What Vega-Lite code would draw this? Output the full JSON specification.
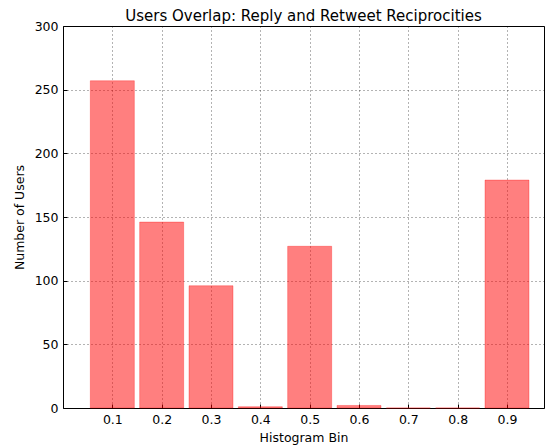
{
  "$schema": "https://vega.github.io/schema/vega-lite/v6.json",
  "width": 481,
  "height": 382,
  "autosize": {"type": "none"},
  "padding": {"left": 63, "top": 26, "right": 1, "bottom": 38},
  "background": "white",
  "title": {
    "text": "Users Overlap: Reply and Retweet Reciprocities",
    "font": "DejaVu Sans",
    "fontSize": 15,
    "fontWeight": "normal",
    "color": "black",
    "offset": -4
  },
  "config": {
    "view": {"stroke": "black", "strokeWidth": 1},
    "axis": {
      "labelFont": "DejaVu Sans",
      "titleFont": "DejaVu Sans",
      "labelFontSize": 12.5,
      "titleFontSize": 12.5,
      "titleFontWeight": "normal",
      "labelColor": "black",
      "titleColor": "black",
      "domain": false,
      "tickColor": "black",
      "tickSize": -4,
      "labelPadding": 9,
      "grid": true,
      "gridColor": "#000000",
      "gridOpacity": 0.6,
      "gridDash": [1, 3],
      "gridWidth": 1,
      "zindex": 1
    }
  },
  "data": {
    "values": [
      {"bin": 0.1, "users": 257},
      {"bin": 0.2, "users": 146},
      {"bin": 0.3, "users": 96},
      {"bin": 0.4, "users": 1},
      {"bin": 0.5, "users": 127},
      {"bin": 0.6, "users": 2},
      {"bin": 0.7, "users": 0},
      {"bin": 0.8, "users": 0},
      {"bin": 0.9, "users": 179}
    ]
  },
  "mark": {
    "type": "bar",
    "size": 44,
    "fill": "#ff0000",
    "fillOpacity": 0.5,
    "stroke": "#ff0000",
    "strokeOpacity": 0.3,
    "strokeWidth": 1
  },
  "encoding": {
    "x": {
      "field": "bin",
      "type": "quantitative",
      "scale": {"domain": [0, 0.975], "nice": false, "zero": false, "padding": 0},
      "axis": {
        "title": "Histogram Bin",
        "values": [0.1, 0.2, 0.3, 0.4, 0.5, 0.6, 0.7, 0.8, 0.9],
        "format": ".1f",
        "titlePadding": 6
      }
    },
    "y": {
      "field": "users",
      "type": "quantitative",
      "scale": {"domain": [0, 300], "nice": false},
      "axis": {
        "title": "Number of Users",
        "values": [0, 50, 100, 150, 200, 250, 300],
        "titlePadding": 8
      }
    }
  }
}
